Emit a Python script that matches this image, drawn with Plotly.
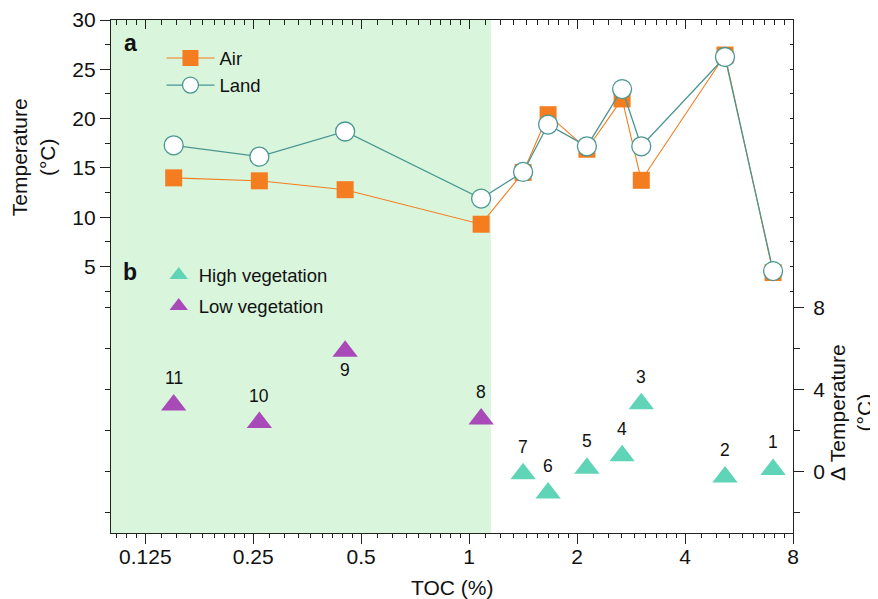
import numpy as np
import plotly.graph_objects as go

# ---------------- data ----------------
site = ["1", "2", "3", "4", "5", "6", "7", "8", "9", "10", "11"]
toc = [7.04, 5.17, 3.02, 2.67, 2.13, 1.66, 1.414, 1.08, 0.451, 0.260, 0.150]
air_temp = [4.4, 26.45, 13.75, 22.0, 16.9, 20.4, 14.55, 9.3, 12.8, 13.7, 14.0]
land_temp = [4.55, 26.25, 17.2, 23.0, 17.2, 19.4, 14.6, 11.9, 18.7, 16.15, 17.3]
delta_temp = [0.10, -0.27, 3.30, 0.77, 0.15, -1.05, -0.11, 2.56, 5.86, 2.38, 3.24]
vegetation = ["High"] * 7 + ["Low"] * 4
label_below = ["9"]

x_tick_vals = [0.125, 0.25, 0.5, 1, 2, 4, 8]
x_tick_text = ["0.125", "0.25", "0.5", "1", "2", "4", "8"]
y_tick_vals = [5, 10, 15, 20, 25, 30]
y_minor_vals = [2.5, 7.5, 12.5, 17.5, 22.5, 27.5]
y_mirror_vals = [2.5, 5, 7.5, 10, 12.5, 15, 17.5, 20, 22.5, 25, 27.5, 30]
dy_tick_vals = [0, 4, 8]
dy_minor_vals = [-2, 2, 6]
dy_mirror_vals = [-2, 0, 2, 4, 6, 8]
shade_toc = 1.15

# ---------------- styling ----------------
FONT = "Liberation Sans, Arial, Helvetica, sans-serif"
INK = "#111111"
AX = "#222222"
ORANGE = "#F47D20"
TEAL = "#4A9692"
GREEN_BG = "#D9F5DC"
HIGH = "#60D4B6"
LOW = "#A84BB8"

x_lo, x_hi = 0.1003, 8.0
x_range = [np.log10(x_lo), np.log10(x_hi)]
y_range = [-22, 30]
dy_range = [-3, 22]

x_minor = []
for n in range(-4, 3):
    b = 2.0 ** n
    for k in range(1, 9):
        v = b * (1 + k / 9)
        if x_lo < v < x_hi:
            x_minor.append(v)

fig = go.Figure()

# panel a
fig.add_trace(go.Scatter(
    x=toc, y=air_temp, mode="lines+markers", name="Air",
    line=dict(color=ORANGE, width=1.1),
    marker=dict(symbol="square", size=17, color=ORANGE, line=dict(width=0)),
    legend="legend", xaxis="x", yaxis="y", legendgroup="a1",
))
fig.add_trace(go.Scatter(
    x=toc, y=land_temp, mode="lines+markers", name="Land",
    line=dict(color=TEAL, width=1.3),
    marker=dict(symbol="circle", size=19, color="white", line=dict(color=TEAL, width=1.3)),
    legend="legend", xaxis="x", yaxis="y", legendgroup="a2",
))

# panel b
for veg, col, nm in [("High", HIGH, "High vegetation"), ("Low", LOW, "Low vegetation")]:
    xs = [t for t, v in zip(toc, vegetation) if v == veg]
    ys = [d for d, v in zip(delta_temp, vegetation) if v == veg]
    fig.add_trace(go.Scatter(
        x=xs, y=ys, mode="markers", name=nm,
        marker=dict(symbol="triangle-up", size=22, color=col, line=dict(width=0)),
        legend="legend2", xaxis="x", yaxis="y3", legendgroup=nm,
    ))

# invisible carriers for the mirror axes
fig.add_trace(go.Scatter(x=toc, y=land_temp, mode="markers", xaxis="x2", yaxis="y2",
                         marker=dict(opacity=0), showlegend=False, hoverinfo="skip"))
fig.add_trace(go.Scatter(x=toc, y=delta_temp, mode="markers", xaxis="x", yaxis="y4",
                         marker=dict(opacity=0), showlegend=False, hoverinfo="skip"))

# low-TOC shading
fig.add_shape(type="rect", xref="x", yref="paper", x0=x_lo, x1=shade_toc, y0=0, y1=1,
              fillcolor=GREEN_BG, line=dict(width=0), layer="below")

annotations = []
for s, t, d in zip(site, toc, delta_temp):
    below = s in label_below
    annotations.append(dict(
        x=np.log10(t), y=d, xref="x", yref="y3", text=s, showarrow=False,
        yanchor="middle", yshift=-19 if below else 27,
        font=dict(family=FONT, size=17.5, color=INK),
    ))

annotations += [
    dict(x=0.028, y=0.955, xref="paper", yref="paper", text="<b>a</b>", showarrow=False,
         xanchor="center", yanchor="middle", font=dict(family=FONT, size=23, color=INK)),
    dict(x=0.028, y=0.509, xref="paper", yref="paper", text="<b>b</b>", showarrow=False,
         xanchor="center", yanchor="middle", font=dict(family=FONT, size=23, color=INK)),
    dict(x=-0.114, y=0.733, xref="paper", yref="paper", text="Temperature<br>(°C)",
         showarrow=False, textangle=-90, xanchor="center", yanchor="middle",
         font=dict(family=FONT, size=21, color=INK)),
    dict(x=1.085, y=0.236, xref="paper", yref="paper", text="Δ Temperature<br>(°C)",
         showarrow=False, textangle=-90, xanchor="center", yanchor="middle",
         font=dict(family=FONT, size=21, color=INK)),
    dict(x=0.5, y=-0.107, xref="paper", yref="paper", text="TOC (%)", showarrow=False,
         xanchor="center", yanchor="middle", font=dict(family=FONT, size=21, color=INK)),
]

axis_common = dict(showgrid=False, zeroline=False, tickcolor=AX, tickwidth=1.2,
                   linecolor=AX, linewidth=1.2, automargin=False)

# the page body keeps its default 8px margin, so the figure is sized to fit the window
fig.update_layout(
    width=870, height=591, autosize=False,
    margin=dict(l=103, r=85, t=12, b=66, autoexpand=False),
    paper_bgcolor="white", plot_bgcolor="white",
    font=dict(family=FONT, color=INK),
    xaxis=dict(type="log", range=x_range, tickmode="array", tickvals=x_tick_vals,
               ticktext=x_tick_text, ticks="outside", ticklen=10, showline=True,
               tickfont=dict(size=21, family=FONT, color=INK), anchor="y",
               ticklabelstandoff=-5,
               minor=dict(tickmode="array", tickvals=x_minor, ticks="outside", ticklen=4,
                          tickcolor=AX, tickwidth=1.2, showgrid=False),
               **axis_common),
    xaxis2=dict(type="log", range=x_range, overlaying="x", side="top", anchor="y",
                tickmode="array", tickvals=x_tick_vals, ticks="inside", ticklen=9,
                showticklabels=False, showline=True,
                minor=dict(tickmode="array", tickvals=x_minor, ticks="inside", ticklen=5,
                           tickcolor=AX, tickwidth=1.2, showgrid=False),
                **axis_common),
    yaxis=dict(range=y_range, tickmode="array", tickvals=y_tick_vals,
               ticktext=[str(v) for v in y_tick_vals], ticks="outside", ticklen=10,
               showline=True, side="left", anchor="x",
               tickfont=dict(size=21, family=FONT, color=INK),
               minor=dict(tickmode="array", tickvals=y_minor_vals, ticks="outside", ticklen=5,
                          tickcolor=AX, tickwidth=1.2, showgrid=False),
               **axis_common),
    yaxis2=dict(range=y_range, overlaying="y", side="right", anchor="x",
                tickmode="array", tickvals=y_mirror_vals, ticks="inside", ticklen=3,
                showticklabels=False, showline=False, **axis_common),
    yaxis3=dict(range=dy_range, overlaying="y", side="right", anchor="x",
                tickmode="array", tickvals=dy_tick_vals,
                ticktext=[str(v) for v in dy_tick_vals], ticks="outside", ticklen=10,
                showline=True, tickfont=dict(size=21, family=FONT, color=INK),
                ticklabelstandoff=5,
                minor=dict(tickmode="array", tickvals=dy_minor_vals, ticks="outside", ticklen=6,
                           tickcolor=AX, tickwidth=1.2, showgrid=False),
                **axis_common),
    yaxis4=dict(range=dy_range, overlaying="y", side="left", anchor="x",
                tickmode="array", tickvals=dy_mirror_vals, ticks="outside", ticklen=5,
                showticklabels=False, showline=False, **axis_common),
    legend=dict(x=0.074, y=0.962, xanchor="left", yanchor="top", bgcolor="rgba(0,0,0,0)",
                font=dict(size=18.5, family=FONT, color=INK), traceorder="grouped",
                tracegroupgap=0, borderwidth=0, itemwidth=48),
    legend2=dict(x=0.07, y=0.539, xanchor="left", yanchor="top", bgcolor="rgba(0,0,0,0)",
                 font=dict(size=18.5, family=FONT, color=INK), traceorder="grouped",
                 tracegroupgap=4, borderwidth=0),
    annotations=annotations,
    showlegend=True,
)

fig.write_html("out.html")
